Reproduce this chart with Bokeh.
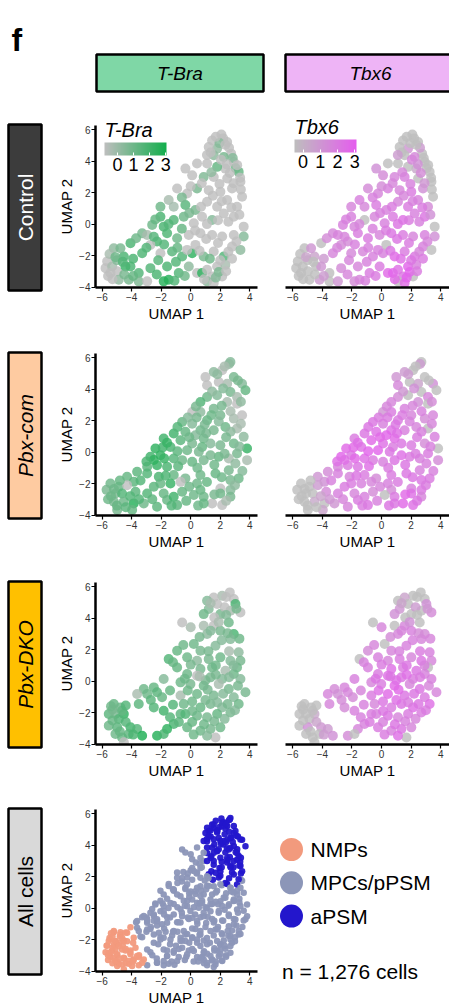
import numpy as np
from bokeh.plotting import figure
from bokeh.layouts import column, row
from bokeh.models import (ColumnDataSource, Range1d, FixedTicker, LinearColorMapper,
                          ColorBar)
from bokeh.transform import factor_cmap
from bokeh.core.properties import value
from bokeh.embed import file_html
from bokeh.resources import INLINE

FONT = "Liberation Sans"

# ---------------- data ----------------
genes = ["T-Bra", "Tbx6"]
conditions = ["Control", "Pbx-com", "Pbx-DKO", "All cells"]
x_ticks = [-6, -4, -2, 0, 2, 4]
y_ticks = [-4, -2, 0, 2, 4, 6]
legend_ticks = [0, 1, 2, 3]
cluster_codes = ["N", "M", "A"]
cluster_names = ["NMPs", "MPCs/pPSM", "aPSM"]
n_cells = 1276

ctrl_x = [2.08, 1.45, 2.47, 1.79, 1.22, 2.74, 2.24, 1.56, 2.92, 3.25,
          2.35, 1.79, 1.11, 0.43, -0.36, 0.88, 0.10, 1.56, 2.47, 3.37,
          2.80, 2.01, 1.22, 0.43, -0.24, -0.92, -1.49, -2.05, -1.15, -0.36,
          0.32, 1.11, 1.79, 2.47, 3.14, 3.48, 2.92, 2.24, 1.45, 0.77,
          0.21, -0.47, -1.15, -2.05, -1.83, -2.61, -3.29, -2.95, -2.28, -1.60,
          -0.92, -0.13, 0.66, 1.45, 2.13, 2.92, 3.59, 3.59, 2.80, 3.37,
          2.24, 1.56, 0.88, 0.10, 0.32, -0.58, -1.26, -2.05, -2.73, -3.29,
          -4.08, -4.53, -5.21, -4.76, -5.66, -5.77, -5.32, -4.98, -4.42, -4.08,
          -4.87, -4.19, -3.52, -2.73, -3.52, -2.95, -1.60, -0.81, -1.83, -1.49,
          -0.13, 0.43, 0.77, 1.11, 1.45, 1.79, 2.35, 1.11, 1.56, 2.13,
          -5.44, -0.24, 2.20, 1.95, 2.60, 1.35, 2.05, 3.05, 3.35, 2.65,
          -5.60, -5.00, 1.90, 2.55,
          1.70, 2.35, 1.10, 2.85, 3.15, 2.45, 1.40, 2.90, 3.40, 1.95,
          0.75, 0.00, -0.60, 1.50,
          2.10, 2.75, 3.30, 0.70, -0.10, 1.10, 1.85, 2.55, -1.50, -2.40,
          -0.60, 0.30, 1.05, 1.85, 3.10, -2.50, -3.70, -3.00, -1.80, -0.90,
          0.60, 1.30, 2.00, 2.80, -1.00, -2.20, -2.30, -1.10, -0.40, 0.90,
          1.70, 2.40,
          -5.50, -5.10, -4.60, -4.50, -3.90, -5.30, -3.90]
ctrl_y = [5.70, 5.32, 5.22, 4.80, 4.90, 4.48, 4.27, 4.38, 3.95, 3.32,
          3.53, 3.64, 3.85, 3.85, 3.53, 3.00, 3.10, 3.00, 2.90, 2.69,
          2.27, 2.05, 2.16, 2.27, 1.95, 2.27, 1.53, 1.10, 1.10, 1.21,
          0.90, 1.42, 1.10, 1.53, 1.10, 1.74, 0.47, 0.68, 0.26, 0.47,
          0.05, 0.47, 0.26, 0.47, -0.16, -0.05, -0.58, -0.69, -1.11, -0.58,
          -0.90, -0.69, -0.58, -0.69, -0.79, -0.69, -0.16, -0.79, -1.43, -1.64,
          -2.06, -1.74, -2.06, -1.85, -1.32, -2.06, -1.74, -1.85, -1.32, -1.85,
          -1.21, -2.06, -1.53, -1.53, -2.37, -2.80, -2.69, -3.00, -2.69, -2.69,
          -3.54, -3.54, -3.11, -2.80, -3.64, -3.64, -2.69, -3.11, -3.64, -3.54,
          -2.69, -3.11, -3.11, -2.90, -3.33, -2.69, -2.59, -3.64, -3.75, -3.33,
          -3.11, -1.64, 5.45, 5.15, 4.85, 4.55, 4.10, 3.55, 2.95, 3.25,
          -3.30, -2.30, -3.05, -1.75,
          5.55, 5.05, 4.40, 4.20, 3.75, 3.80, 3.30, 2.60, 2.20, 2.55,
          2.60, 2.40, 1.70, 1.80,
          1.45, 1.05, 0.60, 1.10, 0.70, 0.00, 0.25, 0.15, 0.00, 0.30,
          -0.30, -0.40, -0.95, -1.20, -1.10, -0.80, -0.90, -1.50, -1.30, -1.50,
          -1.70, -2.20, -2.30, -2.20, -2.40, -2.30, -3.20, -3.60, -3.30, -3.50,
          -3.40, -3.00,
          -1.90, -2.10, -2.40, -3.20, -2.20, -3.50, -3.30]
ctrl_tbra = [-0.8, -0.8, -0.8, 0.2, -0.8, -0.8, 0.8, 0.3, -0.8, 1.2,
             -0.8, 1.2, -0.8, -0.8, -0.8, 0.6, -0.8, -0.8, -0.8, -0.8,
             -0.8, -0.8, -0.8, 0.8, -0.8, -0.8, -0.3, 1.0, -0.2, 1.5,
             0.8, -0.8, -0.8, -0.8, -0.8, -0.8, -0.8, -0.8, 0.5, -0.8,
             -0.8, 1.0, 1.6, 1.8, 1.8, 1.0, 0.8, -0.3, 1.8, 1.7,
             1.0, -0.8, -0.8, -0.8, -0.8, -0.8, -0.8, 0.5, -0.8, 0.3,
             1.6, -0.8, 0.8, 2.4, -0.8, 1.6, 1.5, -0.8, -0.8, 1.7,
             1.8, 1.8, 0.3, 0.8, -0.8, -0.8, -0.3, -0.8, 2.2, 1.8,
             0.2, 0.8, 1.6, 1.6, 0.6, -0.8, 1.8, 1.6, 2.6, 2.6,
             0.3, -0.8, 2.4, -0.8, -0.8, -0.8, -0.3, 0.3, -0.8, -0.8,
             -0.8, -0.8, -0.8, 0.5, -0.8, -0.8, -0.8, 1.0, -0.8, -0.8,
             -0.8, 0.5, 0.8, -0.8,
             -0.8, -0.8, -0.8, 0.5, -0.8, -0.8, 0.3, -0.8, -0.8, -0.8,
             -0.8, -0.8, 0.8, -0.8,
             -0.8, -0.8, -0.8, -0.8, 0.8, -0.8, -0.8, -0.8, 1.6, 1.2,
             1.2, -0.8, -0.8, -0.8, -0.8, 1.5, 1.0, 1.6, 1.6, 1.2,
             -0.8, 1.0, -0.8, -0.8, 1.6, 1.5, 1.8, 1.6, 1.0, -0.8,
             0.5, -0.8,
             -0.3, 1.0, 1.6, 0.8, 1.8, -0.8, 1.2]
ctrl_tbx6 = [-0.5, -0.5, -0.5, 1.0, -0.5, -0.5, 1.5, -0.5, -0.5, -0.5,
             0.3, -0.5, -0.5, -0.5, 1.2, 1.6, 1.4, 1.8, -0.5, -0.5,
             1.2, 2.0, 1.6, 1.8, 1.6, 1.4, 1.8, 1.6, 1.5, 2.0,
             1.8, 1.6, 2.0, 1.7, 1.4, -0.5, 2.2, 1.8, 2.4, 2.0,
             1.8, 1.6, -0.5, 1.8, 1.6, 1.8, 1.5, 1.7, 1.4, 1.9,
             2.0, 1.6, 2.2, 2.0, 1.6, 1.8, -0.5, 1.2, 1.8, -0.5,
             2.2, 2.0, 2.6, 1.8, -0.5, 1.8, 1.6, 1.5, 1.4, 1.6,
             -0.5, 0.5, -0.5, 1.0, -0.5, -0.5, -0.5, -0.5, -0.5, 1.0,
             -0.5, 0.8, -0.5, 1.4, -0.5, 1.0, 1.6, 2.0, 1.4, 1.6,
             2.0, 2.6, 2.8, 2.4, 2.2, 2.8, 1.8, -0.5, 2.6, -0.5,
             -0.5, 1.8, -0.5, -0.5, 0.8, -0.5, 1.6, -0.5, -0.5, 1.4,
             -0.5, -0.5, 2.8, 1.6,
             -0.5, -0.5, 0.8, -0.5, -0.5, 1.2, 1.6, 1.0, -0.5, 1.8,
             1.6, 1.4, 1.8, 1.6,
             1.8, 2.0, 1.2, 2.0, 1.8, 2.2, 2.0, 1.8, 1.6, 1.8,
             1.8, 2.0, 2.2, 2.0, 1.6, 1.6, 1.4, 1.6, 1.8, 1.8,
             2.2, 2.4, 2.2, 2.0, 1.8, 1.6, 1.6, 1.8, 2.0, 2.6,
             2.8, 2.0,
             -0.5, 0.5, -0.5, -0.5, 0.8, -0.5, 0.8]
ctrl_cl = list("A" * 13 + "MMMM" + "A" * 6 + "M" * 10 + "A" + "M" * 36 + "N" * 13
               + "M" + "N" + "M" * 15 + "N" + "M" + "A" * 8 + "NN" + "MM"
               + "A" * 10 + "MMM" + "A" + "M" * 32 + "N" * 7)

com_x = [2.69, 2.60, 2.13, 1.56, 1.00, 2.92, 3.48, 2.47, 1.90, 1.11,
         2.69, 3.71, 3.14, 1.79, 1.11, 0.66, 2.47, 3.14, 1.56, 0.66,
         0.10, 2.01, 2.92, 3.48, 1.11, -0.58, 0.10, 2.35, 3.14, 1.56,
         0.66, -1.15, -0.36, 0.32, 0.88, 3.59, 2.92, 2.01, 1.34, -1.83,
         -0.69, 0.10, 0.77, -2.39, -1.37, -0.24, 0.55, 3.82, 3.14, 2.58,
         1.90, 1.34, -2.73, -2.05, -1.15, -0.58, 0.10, 0.88, 3.82, 3.03,
         -2.28, -2.95, -1.60, -3.63, -2.95, -2.16, -1.15, -0.36, 0.66, 1.68,
         2.58, 3.25, 2.69, -4.31, -3.86, -5.44, -4.87, -4.31, -5.10, -4.65,
         -3.74, -2.95, -2.05, -1.37, -0.69, 0.43, 0.66, -5.21, -4.53, -3.86,
         -4.98, -3.97, -3.18, -2.28, -1.60, -1.15, -0.92, -1.83, -0.58, 0.21,
         0.88, 2.01, 2.69, 2.01, 1.45, 2.13, 2.69, 0.88, -2.50, -1.90,
         -0.90, -5.70, -5.40, 0.40,
         2.30, 1.80, 3.20, 2.20, 1.45, 3.40, 2.10, 2.70, 1.40,
         0.35, -0.20, -0.90, 0.95, 1.90,
         2.70, 3.40, -1.60, -0.10, 1.05, 2.40, 3.30, -3.00, -1.80, -0.85,
         0.45, 1.60, 2.30, 3.50, -3.40, -2.50, -1.70, -0.10, 1.10, 2.10,
         3.00, -2.60, -1.30, -0.30, 0.50, 1.60, 2.40,
         -5.60, -5.00, -4.40, -4.10, -4.80, -5.20, -3.50]
com_y = [5.73, 5.60, 5.20, 5.09, 4.77, 4.77, 4.35, 4.35, 4.46, 4.25,
         3.82, 3.93, 3.50, 3.61, 3.50, 3.19, 3.19, 3.08, 2.76, 2.55,
         2.55, 2.34, 2.13, 2.34, 2.03, 1.92, 1.81, 1.60, 1.50, 1.39,
         1.39, 1.18, 1.29, 1.07, 0.86, 0.97, 0.55, 0.44, 0.55, 0.86,
         0.76, 0.55, 0.33, 0.23, 0.33, 0.12, 0.02, 0.23, -0.09, -0.41,
         -0.30, -0.20, -0.30, -0.20, -0.41, -0.51, -0.62, -0.51, -0.51, -0.72,
         -0.83, -0.93, -0.93, -1.25, -1.36, -1.57, -1.46, -1.67, -1.46, -1.36,
         -1.15, -1.67, -1.78, -1.57, -1.89, -1.99, -2.20, -2.10, -2.63, -2.63,
         -2.52, -2.63, -1.99, -1.99, -1.89, -1.99, -2.41, -3.15, -3.15, -3.26,
         -3.68, -3.68, -3.26, -3.47, -3.05, -2.84, -3.37, -2.63, -2.52, -2.73,
         -2.84, -2.31, -2.41, -2.63, -3.26, -3.37, -2.84, -3.26, -0.50, 0.30,
         0.05, -2.40, -2.80, 2.20,
         5.45, 4.95, 4.55, 4.05, 3.85, 3.20, 2.95, 2.60, 2.35,
         2.90, 2.20, 1.60, 1.75, 1.95,
         1.30, 1.80, 0.60, 0.95, 1.20, 0.95, 0.35, -0.60, -0.40, -0.90,
         -1.00, -0.80, -0.10, -1.20, -1.80, -2.20, -1.50, -2.20, -1.90, -1.60,
         -2.10, -3.00, -3.40, -3.10, -3.40, -2.70, -3.10,
         -3.00, -3.40, -3.50, -2.80, -1.80, -2.35, -3.00]
com_tbra = [0.5, 0.3, -0.8, 0.3, -0.8, 0.8, 0.5, -0.3, -0.8, -0.8,
            0.8, 1.2, -0.3, 0.5, 1.0, 1.6, -0.3, -0.8, 0.8, 0.3,
            -0.8, 0.8, -0.3, -0.8, 1.2, 1.2, 0.5, 1.0, -0.3, 0.8,
            1.0, 2.0, 1.2, 0.5, 1.0, 0.3, 1.0, 0.8, 0.5, 2.0,
            1.4, 0.8, 1.2, 2.4, 1.8, 1.0, 0.8, 2.2, 0.8, -0.3,
            1.2, 0.8, 2.0, 2.4, 1.5, 1.0, 1.2, 0.8, -0.3, 0.3,
            2.2, 1.4, 1.8, 1.4, 1.6, 1.8, 1.2, 0.8, 1.0, 1.2,
            0.8, 1.0, 0.8, 1.2, 1.4, 1.0, 1.2, -0.8, 0.8, 1.6,
            1.4, 1.6, 1.2, 2.2, -0.8, 1.0, 1.2, 0.8, 1.0, 2.6,
            0.8, 1.2, 1.0, 1.4, 1.2, 2.0, 1.4, 1.2, 1.2, 1.0,
            1.0, -0.8, 0.5, 1.0, -0.8, -0.8, 0.8, 1.2, 2.4, 2.0,
            1.4, 0.8, 1.0, 0.8,
            -0.3, 0.3, 0.8, 0.5, 0.3, 0.3, 0.8, -0.3, 1.0,
            0.8, 0.5, 1.6, 0.8, 0.5,
            0.3, -0.3, 2.2, 1.0, 0.8, 0.8, 0.5, 1.8, 2.2, 1.4,
            1.0, 1.0, 0.8, 0.5, 1.6, 1.4, 1.8, 1.0, 1.2, 1.0,
            0.3, 1.4, 1.6, 1.2, 1.0, 0.8, -0.3,
            1.0, 1.2, 1.4, 1.6, 1.2, 1.0, 1.6]
com_tbx6 = [-0.5, 0.8, -0.5, 0.8, 1.0, -0.5, 1.2, 0.5, -0.5, 1.5,
            -0.5, -0.5, 1.6, -0.5, 1.4, 1.6, 1.2, -0.5, 1.8, 2.0,
            1.0, 1.6, 1.4, 1.6, 2.0, 2.2, 1.8, 1.6, -0.5, 1.8,
            2.4, 2.2, 2.4, 2.8, 2.6, 1.8, 1.4, 2.0, 2.2, 2.0,
            2.6, 2.4, 2.0, 2.6, 2.4, 2.8, 2.2, -0.5, 2.0, 1.8,
            2.0, 2.4, 2.8, 2.2, 2.4, 2.0, 1.8, 2.2, 1.4, 1.8,
            2.0, 1.6, 2.2, 1.4, 1.8, 1.6, 2.0, 1.4, 2.0, 2.2,
            1.8, 2.0, 2.2, 1.0, 1.2, -0.5, -0.5, 0.8, -0.5, -0.5,
            1.4, 1.8, 2.0, 1.8, 1.6, 1.8, 1.4, -0.5, 0.3, -0.5,
            -0.5, 0.5, 1.0, 1.6, 2.0, 1.8, 2.2, 1.6, 1.4, -0.5,
            2.0, 1.8, 2.2, 2.4, 2.6, 2.4, 1.6, 2.2, 2.4, 2.6,
            2.8, -0.5, -0.5, 2.0,
            -0.5, 0.8, -0.5, 1.2, 1.0, 1.4, 1.6, 1.8, 2.0,
            1.6, 2.0, 2.2, 2.2, 1.8,
            1.8, 1.6, 2.4, 2.6, 2.4, 2.0, 1.8, 2.4, 2.6, 2.4,
            2.0, 2.2, 2.0, 1.8, 1.8, 2.0, 2.2, 1.6, 2.0, 2.2,
            2.0, 1.6, 2.0, 1.8, 2.2, 2.6, 2.2,
            -0.5, -0.5, -0.5, 0.5, -0.5, -0.5, 1.0]
com_cl = list("A" * 15 + "M" + "AAA" + "MM" + "AAA" + "M" + "MM" + "AA" + "M" * 44
              + "N" * 8 + "M" * 6 + "N" * 6 + "M" * 18 + "NN" + "M"
              + "A" * 9 + "MMMM" + "A" + "M" * 27 + "N" * 7)

dko_x = [2.65, 2.13, 1.56, 1.11, 2.92, 3.03, 1.79, 1.22, 2.69, 3.37,
         2.01, 0.88, -0.58, 0.00, 2.58, 1.56, 0.88, 2.01, 2.92, 1.11,
         2.69, 0.21, 1.68, 0.66, 3.25, -0.92, -1.49, -0.24, 0.43, 1.22,
         2.01, 2.69, 3.37, -0.92, 0.66, 1.45, 2.35, 3.14, -0.24, 0.43,
         1.34, 2.13, 2.92, -1.83, -0.69, -0.02, 0.88, 1.90, 2.58, 3.37,
         3.71, -2.50, -3.18, -3.63, -2.95, -2.28, -1.94, -0.69, 0.43, 1.56,
         2.92, 3.25, -3.52, -2.50, -1.83, -0.47, 0.66, 1.34, 2.13, 2.69,
         -5.21, -4.76, -5.55, -5.10, -4.53, -4.87, -4.65, -0.69, -0.36, 0.43,
         1.11, 1.79, -1.15, -1.60, -2.28, -1.83, -0.24, 0.66, 1.34, 2.01,
         1.68, 1.11, -5.55, -4.98, -5.10, -4.65, -4.08, -3.63, -3.29, -4.20,
         -4.53, 2.30, 1.60, -5.30, 0.10, 1.00,
         2.40, 1.35, 2.40, 3.10, 1.90, 1.35, 2.50, 3.30, 2.10,
         0.60, -0.50, 1.20, 2.60,
         -1.20, 0.00, 1.70, 2.90, -0.40, 0.60, 1.70, 2.60, 3.20, -1.40,
         -0.20, 1.15, 2.20, -2.70, -1.20, 0.10, 1.00, 1.80, 2.50, 3.00,
         -0.80, 0.10, 0.90, 1.60, 2.30, -1.40, 0.20,
         -5.40, -4.40, -5.30, -4.40, -3.90, -4.80]
dko_y = [5.64, 5.43, 5.32, 5.11, 5.22, 4.90, 4.90, 4.58, 4.47, 4.37,
         4.26, 4.26, 3.73, 3.42, 3.73, 3.52, 3.52, 3.20, 2.99, 2.99,
         2.67, 2.36, 2.25, 1.93, 1.83, 1.93, 1.40, 1.51, 1.30, 1.40,
         1.51, 1.30, 1.30, 0.87, 0.77, 0.87, 0.66, 0.87, 0.45, 0.34,
         0.24, 0.13, 0.45, 0.13, -0.08, -0.19, -0.29, -0.19, -0.50, 0.13,
         -0.71, -0.40, -0.50, -0.82, -0.82, -0.71, -1.03, -0.92, -0.82, -0.92,
         -1.03, -1.46, -1.46, -1.67, -1.88, -1.46, -1.67, -1.46, -1.67, -1.99,
         -1.46, -1.67, -2.09, -2.09, -2.09, -2.41, -1.88, -2.09, -2.09, -2.20,
         -2.30, -2.09, -2.73, -3.05, -3.47, -3.36, -2.94, -3.15, -3.05, -2.94,
         -3.58, -3.47, -2.83, -2.94, -3.36, -3.58, -2.94, -3.05, -3.47, -3.36,
         -3.89, 4.70, 4.05, -1.80, -1.30, 0.05,
         5.35, 4.95, 4.20, 4.60, 3.75, 3.20, 3.05, 2.70, 2.60,
         2.80, 2.30, 1.90, 1.90,
         1.20, 1.05, 1.00, 1.00, 0.15, 0.30, 0.40, 0.25, -0.30, -0.60,
         -0.60, -0.55, -0.80, -1.20, -1.50, -1.90, -1.20, -1.35, -1.45, -1.85,
         -2.60, -2.60, -2.75, -2.55, -2.40, -2.30, -3.40,
         -1.60, -1.55, -2.50, -2.60, -3.40, -3.20]
dko_tbra = [-0.8, -0.3, -0.8, 0.5, -0.8, 1.8, -0.8, 0.5, -0.3, -0.8,
            0.8, 1.0, -0.8, -0.3, 1.0, -0.8, -0.3, 0.8, 1.8, 0.3,
            0.5, 1.0, 0.5, 0.8, 0.3, 1.2, 1.6, 1.0, 0.3, 0.8,
            1.0, 0.5, 0.8, 1.2, 0.8, 1.0, -0.3, 1.0, 1.0, -0.8,
            0.8, 0.5, 1.0, 0.5, 1.0, 0.8, 1.0, -0.3, 0.8, 0.5,
            0.8, 1.2, 1.0, -0.3, 1.0, 1.4, 1.2, -0.3, 1.0, 0.8,
            0.5, 1.0, 1.4, 1.6, 2.0, 1.0, 1.2, 0.8, 0.5, 0.8,
            1.2, 1.0, 1.4, 0.8, 2.4, 1.6, 1.2, 1.4, 1.6, 1.0,
            0.8, 1.2, 1.8, 2.4, 2.6, 1.8, 1.2, 1.0, 0.8, 1.0,
            -0.8, 0.5, 1.0, 1.4, 1.0, 1.2, 2.0, 1.6, 2.8, 1.4,
            -0.8, -0.8, -0.8, 0.8, 1.0, 0.8,
            -0.8, -0.3, 0.5, 0.8, -0.3, 0.5, 0.8, 1.0, 0.5,
            0.8, 1.0, 0.8, -0.3,
            1.2, 0.8, 1.0, 0.5, 1.0, -0.3, 0.8, 0.5, 0.8, 1.2,
            1.0, 0.8, 0.5, 1.4, 1.6, 1.0, 0.8, 0.5, 0.8, 0.5,
            1.4, 1.2, 1.0, 0.8, 0.5, 1.6, 1.0,
            1.0, 1.6, 1.2, 1.6, 1.8, 1.2]
dko_tbx6 = [-0.5, -0.5, 0.5, -0.5, -0.5, 1.2, -0.5, 1.0, -0.5, 1.4,
            -0.5, 1.2, -0.5, 1.6, -0.5, 1.6, -0.5, 1.8, 1.4, 1.6,
            1.6, -0.5, 1.8, 1.6, 1.8, 1.4, -0.5, 1.8, 1.6, 2.0,
            1.6, 2.2, 1.6, 1.8, 2.4, 2.0, 2.2, -0.5, 2.0, 2.4,
            2.2, 2.0, 1.8, 1.8, 1.6, 2.0, 2.6, 1.6, 2.2, 1.8,
            1.6, 1.6, 1.4, 1.6, 1.2, 1.6, 1.4, 2.0, 2.6, 2.2,
            2.0, 2.4, 1.6, 1.4, 1.8, 1.6, 2.0, 2.2, 2.4, 2.0,
            -0.5, -0.5, -0.5, -0.5, 0.3, -0.5, -0.5, 2.0, 1.8, 2.2,
            1.6, 2.0, 1.8, 1.6, 1.4, -0.5, 2.0, 1.8, 2.2, 1.6,
            -0.5, 2.4, -0.5, 1.2, -0.5, -0.5, 1.0, 0.8, 1.2, -0.5,
            -0.5, 0.8, -0.5, -0.5, 2.2, 2.4,
            -0.5, 0.5, -0.5, 1.0, 1.2, 1.6, 1.4, 1.6, 1.8,
            1.4, 1.6, 1.8, 2.0,
            1.8, 2.0, 2.2, 1.8, 2.2, 2.2, 2.4, 2.0, 1.6, 1.6,
            2.4, 2.6, 2.2, 1.4, 1.8, 2.2, 2.4, 2.0, 2.2, 2.0,
            2.0, 1.8, 2.2, 1.8, 1.6, 1.8, 2.0,
            -0.5, -0.5, -0.5, 0.5, 0.8, -0.5]
dko_cl = list("A" * 12 + "MM" + "AA" + "M" + "AAAA" + "M" + "A" + "M" + "A" + "M" * 45
              + "N" * 7 + "M" * 15 + "N" * 9 + "AA" + "N" + "MM"
              + "A" * 9 + "MMM" + "A" + "M" * 27 + "N" * 6)

# ---------------- style ----------------
GREY = "#BEBEBE"
GREEN = "#12AE4C"
PINK = "#E55DEE"
cluster_colors = ["#F29A7D", "#8C96B8", "#2316CC"]
header_fills = ["#7FD7A6", "#EEB4F6"]
row_fills = ["#3C3C3C", "#FECBA1", "#FFC000", "#D9D9D9"]
row_text_colors = ["white", "black", "black", "black"]
row_italic = [False, True, True, False]


def ramp(c0, c1, n=256):
    a = np.array([int(c0[i:i + 2], 16) for i in (1, 3, 5)], dtype=float)
    b = np.array([int(c1[i:i + 2], 16) for i in (1, 3, 5)], dtype=float)
    return ["#%02x%02x%02x" % tuple(np.round(a + (b - a) * t).astype(int))
            for t in np.linspace(0, 1, n)]


map_tbra = LinearColorMapper(palette=ramp(GREY, GREEN), low=-0.8, high=3.05)
map_tbx6 = LinearColorMapper(palette=ramp(GREY, PINK), low=-0.5, high=3.1)

ROW_H = [228, 229, 227, 211]
FRAME_H = 162
TOP = 15
Y_RANGE = (-4.03, 6.27)


def style_axes(p, show_y=True):
    axes = [p.xaxis[0]] + ([p.yaxis[0]] if show_y else [])
    for ax in axes:
        ax.axis_line_width = 2.5
        ax.axis_line_color = "black"
        ax.major_tick_line_color = "black"
        ax.major_tick_line_width = 1.2
        ax.major_tick_out = 4
        ax.major_tick_in = 0
        ax.minor_tick_line_color = None
        ax.major_label_text_font = FONT
        ax.major_label_text_font_size = "10px"
        ax.major_label_text_color = "#333333"
        ax.major_label_standoff = 1
        ax.axis_label_text_font = FONT
        ax.axis_label_text_font_size = "15px"
        ax.axis_label_text_font_style = "normal"
        ax.axis_label_text_color = "black"
        ax.axis_label_standoff = 1
    p.xaxis.ticker = FixedTicker(ticks=x_ticks)
    p.xaxis.axis_label = "UMAP 1"
    if show_y:
        p.yaxis.ticker = FixedTicker(ticks=y_ticks)
        p.yaxis.axis_label = "UMAP 2"
    else:
        p.yaxis.visible = False


def base_panel(h, left, right, frame_w, x0, show_y):
    scale = 14.76 if show_y else 14.8
    p = figure(frame_width=frame_w, frame_height=FRAME_H,
               x_range=Range1d(x0, x0 + frame_w / scale), y_range=Range1d(*Y_RANGE),
               min_border_left=left, min_border_right=right, min_border_top=TOP,
               min_border_bottom=h - TOP - FRAME_H, title=None,
               output_backend="svg", toolbar_location=None)
    p.grid.visible = False
    p.outline_line_color = None
    p.background_fill_color = "white"
    p.border_fill_color = "white"
    style_axes(p, show_y)
    return p


def deco_fig(width, h, y_start, y_end):
    # whole canvas is the frame; wrapped in a column so rows do not re-align it
    p = figure(frame_width=width, frame_height=h,
               x_range=Range1d(0, width), y_range=Range1d(y_start, y_end),
               x_axis_type=None, y_axis_type=None,
               min_border_left=0, min_border_right=0, min_border_top=0,
               min_border_bottom=0, title=None,
               output_backend="svg", toolbar_location=None)
    p.outline_line_color = None
    p.grid.visible = False
    return p


def expr_panel(xs, ys, vals, mapper, h, left_col, title=None, cb_loc=None):
    if left_col:
        p = base_panel(h, 47, 13, 162, -6.45, True)
    else:
        p = base_panel(h, 15, 0, 164, -6.49, False)
    src = ColumnDataSource(dict(x=xs, y=ys, v=vals))
    p.scatter("x", "y", source=src, size=10, line_color=None, fill_alpha=0.82,
              fill_color={"field": "v", "transform": mapper})
    if title is not None:
        cb = ColorBar(color_mapper=mapper, orientation="horizontal", location=cb_loc,
                      width=62, height=13, title=title,
                      title_text_font=FONT, title_text_font_size="20px",
                      title_text_font_style="italic", title_text_color="black",
                      title_standoff=3, ticker=FixedTicker(ticks=legend_ticks),
                      major_label_text_font=FONT, major_label_text_font_size="18px",
                      major_label_text_color="black", label_standoff=2,
                      major_tick_in=3, major_tick_out=0, major_tick_line_color="white",
                      minor_tick_line_color=None, bar_line_color=None,
                      border_line_color=None, background_fill_alpha=0,
                      padding=0, margin=0)
        p.add_layout(cb, "center")
    return p


def side_label(i, h):
    # data y == pixel offset from the top of the row
    p = deco_fig(48, h, h, 0)
    p.quad(left=[8], right=[41], top=[14], bottom=[180], fill_color=row_fills[i],
           line_color="black", line_width=2.5)
    p.text(x=[24.5], y=[97], text=[conditions[i]], angle=np.pi / 2,
           text_align="center", text_baseline="middle", text_color=row_text_colors[i],
           text_font=value(FONT), text_font_size="21px",
           text_font_style="italic" if row_italic[i] else "normal")
    return column(p)


# header
hdr = figure(width=449, height=110, x_range=Range1d(0, 449), y_range=Range1d(110, 0),
             x_axis_type=None, y_axis_type=None, min_border=0, title=None,
             output_backend="svg", toolbar_location=None, outline_line_color=None)
hdr.text(x=[11], y=[39], text=["f"], text_font=value(FONT), text_font_size="32px",
         text_font_style="bold", text_baseline="alphabetic", text_color="black")
hdr.quad(left=[96, 285], right=[263, 455], top=[54, 54], bottom=[91, 91],
         fill_color=header_fills, line_color="black", line_width=2.5)
hdr.text(x=[179.5, 370], y=[73, 73], text=genes, text_font=value(FONT),
         text_font_size="19px", text_font_style="italic", text_align="center",
         text_baseline="middle", text_color="black")

rows = [hdr]
cond_data = [(ctrl_x, ctrl_y, ctrl_tbra, ctrl_tbx6),
             (com_x, com_y, com_tbra, com_tbx6),
             (dko_x, dko_y, dko_tbra, dko_tbx6)]
for i, (xs, ys, tb, tx) in enumerate(cond_data):
    h = ROW_H[i]
    if i == 0:
        p1 = expr_panel(xs, ys, tb, map_tbra, h, True, genes[0], (9, 114))
        p2 = expr_panel(xs, ys, tx, map_tbx6, h, False, genes[1], (9, 117))
    else:
        p1 = expr_panel(xs, ys, tb, map_tbra, h, True)
        p2 = expr_panel(xs, ys, tx, map_tbx6, h, False)
    rows.append(row(side_label(i, h), p1, p2))

# all cells
all_x = ctrl_x + com_x + dko_x
all_y = ctrl_y + com_y + dko_y
all_cl = ctrl_cl + com_cl + dko_cl
h4 = ROW_H[3]
pa = base_panel(h4, 47, 13, 162, -6.45, True)
asrc = ColumnDataSource(dict(x=all_x, y=all_y, cl=all_cl))
pa.scatter("x", "y", source=asrc, size=6.5, line_color=None, fill_alpha=0.95,
           fill_color=factor_cmap("cl", palette=cluster_colors, factors=cluster_codes))

# legend: item i sits at 55 + 33.3 * i px below the row top
ITEM0, STEP = 55, 33.3
leg = deco_fig(179, h4, (h4 - ITEM0) / STEP, -ITEM0 / STEP)
lsrc = ColumnDataSource(dict(i=list(range(len(cluster_names))), name=cluster_names,
                             color=cluster_colors))
leg.scatter(x=21, y="i", source=lsrc, size=23, fill_color="color", line_color=None)
leg.text(x=40, y="i", text="name", source=lsrc, text_font=value(FONT),
         text_font_size="21px", text_baseline="middle", text_color="black")
leg.text(x=[11.5], y=[(177 - ITEM0) / STEP], text=["n = {:,} cells".format(n_cells)],
         text_font=value(FONT), text_font_size="21px", text_baseline="middle",
         text_color="black")

rows.append(row(side_label(3, h4), pa, column(leg)))

layout = column(*rows)
open("out.html", "w").write(file_html(layout, INLINE))
